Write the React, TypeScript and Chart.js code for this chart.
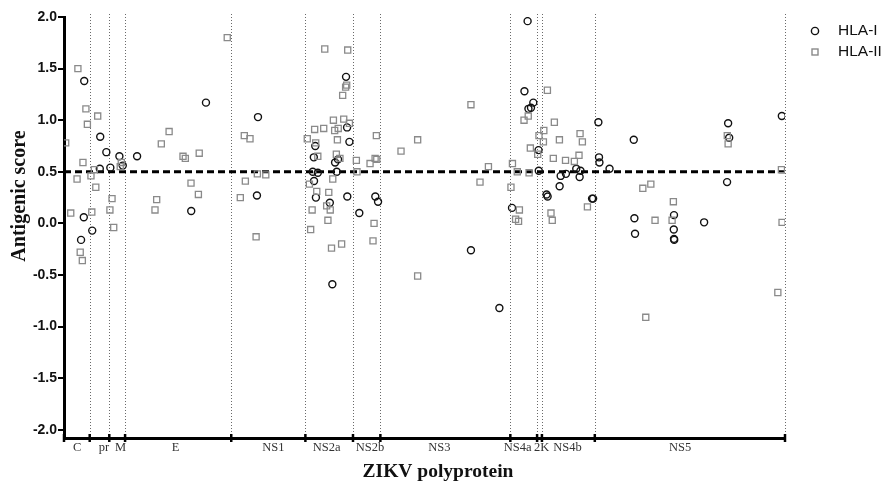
import React, { useEffect, useRef } from "react";
import { Chart, registerables } from "chart.js";

Chart.register(...registerables);

// ZIKV polyprotein regions (end positions, amino acids)
const regionNames = ["C", "pr", "M", "E", "NS1", "NS2a", "NS2b", "NS3", "NS4a", "2K", "NS4b", "NS5"];
const regionEnds = [122, 215, 290, 794, 1146, 1372, 1502, 2119, 2246, 2269, 2520, 3423];
const regionLabelPos = [62, 190, 269, 530, 994, 1247, 1453, 1782, 2154, 2268, 2390, 2925];
const yTickValues = [2, 1.5, 1, 0.5, 0, -0.5, -1, -1.5, -2];
const threshold = 0.5;

const hlaI: [number, number][] = [
  [96, 1.38], [94, 0.06], [81, -0.16], [134, -0.07], [172, 0.84], [201, 0.69], [170, 0.53], [220, 0.54],
  [263, 0.65], [279, 0.56], [347, 0.65], [674, 1.17], [604, 0.12], [921, 1.03], [916, 0.27],
  [1339, 1.42], [1344, 0.93], [1193, 0.75], [1355, 0.79], [1186, 0.64], [1301, 0.62], [1287, 0.59],
  [1181, 0.5], [1205, 0.49], [1295, 0.5], [1187, 0.41], [1196, 0.25], [1345, 0.26], [1262, 0.2],
  [1274, -0.59], [1478, 0.26], [1491, 0.21], [1402, 0.1], [1932, -0.26], [2067, -0.82],
  [2201, 1.96], [2186, 1.28], [2228, 1.17], [2217, 1.12], [2205, 1.11], [2127, 0.15],
  [2253, 0.71], [2254, 0.51], [2291, 0.28], [2296, 0.26], [2358, 0.46], [2353, 0.36], [2383, 0.48],
  [2432, 0.53], [2452, 0.51], [2448, 0.45], [2507, 0.24], [2512, 0.24], [2537, 0.98], [2540, 0.64],
  [2542, 0.59], [2590, 0.53], [2705, 0.81], [2708, 0.05], [2711, -0.1], [2896, 0.08], [2895, -0.06],
  [2896, -0.15], [2897, -0.16], [3039, 0.01], [3153, 0.97], [3158, 0.83], [3148, 0.4], [3408, 1.04],
];

const hlaII: [number, number][] = [
  [66, 1.5], [104, 1.11], [111, 0.96], [8, 0.78], [90, 0.59], [62, 0.43], [32, 0.1], [77, -0.28], [87, -0.36],
  [160, 1.04], [128, 0.46], [144, 0.52], [151, 0.35], [132, 0.11], [218, 0.13],
  [228, 0.24], [236, -0.04], [272, 0.59], [267, 0.55],
  [499, 0.89], [462, 0.77], [440, 0.23], [432, 0.13], [775, 1.8], [565, 0.65], [576, 0.63], [642, 0.68],
  [603, 0.39], [638, 0.28],
  [856, 0.85], [883, 0.82], [861, 0.41], [918, 0.48], [958, 0.47], [837, 0.25], [912, -0.13],
  [1155, 0.82], [1238, 1.69], [1347, 1.68], [1342, 1.34], [1337, 1.32], [1323, 1.24], [1279, 1.0],
  [1328, 1.01], [1355, 0.97], [1302, 0.92], [1285, 0.9], [1233, 0.92], [1190, 0.91], [1195, 0.78],
  [1298, 0.81], [1205, 0.65], [1293, 0.67], [1310, 0.63], [1276, 0.43], [1165, 0.38], [1200, 0.31],
  [1257, 0.3], [1247, 0.17], [1264, 0.13], [1178, 0.13], [1253, 0.03], [1171, -0.06], [1318, -0.2],
  [1270, -0.24],
  [1483, 0.85], [1388, 0.61], [1477, 0.63], [1485, 0.62], [1453, 0.58], [1391, 0.5], [1472, 0.0], [1467, -0.17],
  [1600, 0.7], [1679, 0.81], [1932, 1.15], [2015, 0.55], [1975, 0.4], [1679, -0.51],
  [2129, 0.58], [2152, 0.5], [2208, 0.49], [2122, 0.35], [2162, 0.13], [2144, 0.04], [2158, 0.02],
  [2204, 1.04], [2184, 1.0], [2214, 0.73],
  [2249, 0.67], [2255, 0.85], [2278, 0.9], [2276, 0.79],
  [2295, 1.29], [2328, 0.98], [2352, 0.81], [2323, 0.63], [2381, 0.61], [2423, 0.6], [2445, 0.66],
  [2450, 0.87], [2461, 0.79], [2312, 0.1], [2318, 0.03], [2485, 0.16],
  [2748, 0.34], [2786, 0.38], [2893, 0.21], [2806, 0.03], [2887, 0.03], [2762, -0.91],
  [3149, 0.85], [3153, 0.77], [3406, 0.52], [3409, 0.01], [3389, -0.67],
];

const seriesNames = ["HLA-I", "HLA-II"];
const circleColor = "#111111";
const squareColor = "#8a8a8a";

const decorPlugin = {
  id: "decor",
  beforeDatasetsDraw(chart: any) {
    const { ctx, chartArea, scales } = chart;
    const xs = scales.x;
    const ys = scales.y;
    ctx.save();
    // dotted region boundaries
    ctx.strokeStyle = "#6a6a6a";
    ctx.lineWidth = 1;
    ctx.setLineDash([1, 2]);
    regionEnds.forEach((v) => {
      const px = Math.round(xs.getPixelForValue(v)) + 0.5;
      ctx.beginPath();
      ctx.moveTo(px, chartArea.top - 3);
      ctx.lineTo(px, chartArea.bottom);
      ctx.stroke();
    });
    // threshold dashed line
    ctx.setLineDash([7, 4]);
    ctx.lineWidth = 3;
    ctx.strokeStyle = "#000";
    const py = ys.getPixelForValue(threshold);
    ctx.beginPath();
    ctx.moveTo(chartArea.left, py);
    ctx.lineTo(chartArea.right, py);
    ctx.stroke();
    ctx.restore();
  },
  afterDraw(chart: any) {
    const { ctx, chartArea, scales } = chart;
    const xs = scales.x;
    ctx.save();
    // boundary tick marks on x axis
    ctx.strokeStyle = "#000";
    ctx.lineWidth = 2.5;
    [0, ...regionEnds].forEach((v) => {
      const px = xs.getPixelForValue(v);
      ctx.beginPath();
      ctx.moveTo(px, chartArea.bottom - 4);
      ctx.lineTo(px, chartArea.bottom + 4);
      ctx.stroke();
    });
    // region labels
    ctx.fillStyle = "#333";
    ctx.font = '12.5px "Liberation Serif", serif';
    ctx.textAlign = "center";
    ctx.textBaseline = "middle";
    regionNames.forEach((n, i) => {
      ctx.fillText(n, xs.getPixelForValue(regionLabelPos[i]), chartArea.bottom + 10);
    });
    // x title
    ctx.fillStyle = "#111";
    ctx.font = 'bold 19.5px "Liberation Serif", serif';
    ctx.fillText("ZIKV polyprotein", 438, 472);
    // y title
    ctx.save();
    ctx.translate(20, 196);
    ctx.rotate(-Math.PI / 2);
    ctx.font = 'bold 20px "Liberation Serif", serif';
    ctx.fillText("Antigenic score", 0, 0);
    ctx.restore();
    // legend
    const lx = 815;
    const rows = [31, 52];
    ctx.lineWidth = 1.4;
    ctx.strokeStyle = circleColor;
    ctx.beginPath();
    ctx.arc(lx, rows[0], 3.6, 0, Math.PI * 2);
    ctx.stroke();
    ctx.strokeStyle = squareColor;
    ctx.strokeRect(lx - 3, rows[1] - 3, 6, 6);
    ctx.fillStyle = "#111";
    ctx.font = '15.5px "Liberation Sans", Arial, sans-serif';
    ctx.textAlign = "left";
    ctx.fillText(seriesNames[0], 838, rows[0]);
    ctx.fillText(seriesNames[1], 838, rows[1]);
    ctx.restore();
  },
};

export default function App() {
  const canvasRef = useRef<HTMLCanvasElement | null>(null);

  useEffect(() => {
    document.body.style.margin = "0";
    const canvas = canvasRef.current;
    if (!canvas) return;
    const chart = new Chart(canvas, {
      type: "scatter",
      data: {
        datasets: [
          {
            label: seriesNames[1],
            data: hlaII.map(([x, y]) => ({ x, y })),
            pointStyle: "rect",
            pointRadius: 4.3,
            borderColor: squareColor,
            backgroundColor: "rgba(0,0,0,0)",
            borderWidth: 1.3,
          },
          {
            label: seriesNames[0],
            data: hlaI.map(([x, y]) => ({ x, y })),
            pointStyle: "circle",
            pointRadius: 3.5,
            borderColor: circleColor,
            backgroundColor: "rgba(0,0,0,0)",
            borderWidth: 1.4,
          },
        ],
      },
      options: {
        animation: false,
        responsive: false,
        devicePixelRatio: 1,
        layout: { padding: { top: 17, right: 108, bottom: 0, left: 0 } },
        plugins: { legend: { display: false }, tooltip: { enabled: false } },
        scales: {
          x: {
            type: "linear",
            min: 0,
            max: 3423,
            grid: { display: false },
            ticks: { display: false },
            border: { display: true, color: "#000", width: 3 },
            afterFit: (s: any) => {
              s.height = 46;
            },
          },
          y: {
            min: -2.08,
            max: 2.0,
            afterBuildTicks: (s: any) => {
              s.ticks = yTickValues.map((v) => ({ value: v }));
            },
            grid: { display: true, drawOnChartArea: false, drawTicks: true, tickLength: 6, color: "#000", lineWidth: 2 },
            border: { display: true, color: "#000", width: 3 },
            ticks: {
              padding: 1,
              color: "#111",
              font: { family: '"Liberation Sans", Arial, sans-serif', size: 14, weight: "bold" },
              callback: (v: any) => Number(v).toFixed(1),
            },
            afterFit: (s: any) => {
              s.width = 64;
            },
          },
        },
      },
      plugins: [decorPlugin],
    } as any);
    return () => chart.destroy();
  }, []);

  return <canvas ref={canvasRef} width={893} height={484} style={{ display: "block" }} />;
}
